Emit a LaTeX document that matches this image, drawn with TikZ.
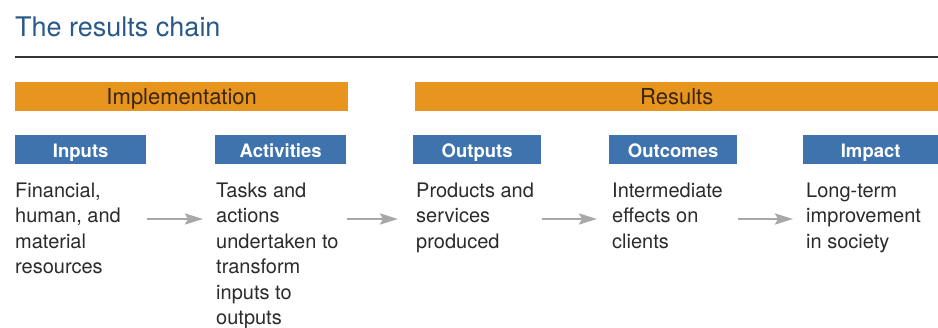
\documentclass[tikz,border=0pt]{standalone}
\usepackage{fontspec}
\setmainfont{TeX Gyre Heros}
\usetikzlibrary{arrows.meta}
\definecolor{barorange}{HTML}{E8951F}
\definecolor{boxblue}{HTML}{3F73AE}
\definecolor{titleblue}{HTML}{28598A}
\definecolor{bartext}{HTML}{3A2510}
\definecolor{bodytext}{HTML}{2B2B2B}
\definecolor{arrowgray}{HTML}{A8A8A8}
\tikzset{
  phasebar/.style={fill=barorange, draw=none, inner sep=0pt, anchor=north west,
    minimum height=29pt, text=bartext, text depth=0pt, text height=15pt,
    font=\fontsize{22}{24}\selectfont},
  stagebox/.style={fill=boxblue, draw=none, inner sep=0pt, anchor=north west,
    minimum width=131pt, minimum height=29pt, text=white, text depth=0pt,
    text height=15pt, font=\fontsize{18.5}{20}\selectfont\bfseries},
  stagetext/.style={anchor=north west, inner sep=0pt, align=left, text=bodytext,
    font=\fontsize{20}{25.5}\selectfont},
  flow/.style={draw=arrowgray, line width=2.6pt, shorten >=12pt, shorten <=1pt,
    -{Stealth[length=18pt,width=11pt,inset=3pt]}}
}
\begin{document}
\begin{tikzpicture}[x=1pt,y=-1pt]
\useasboundingbox[fill=white] (0,0) rectangle (938,327);

% heading and rule
\node[anchor=base west, inner sep=0pt, text=titleblue,
  font=\fontsize{27}{30}\selectfont] (title) at (15,36) {The results chain};
\coordinate (ruleL) at (15,57);
\coordinate (ruleR) at (938,57);
\draw[line width=1.5pt, color=black!80] (ruleL) -- (ruleR);

% phase bars
\node[phasebar, minimum width=333pt] (impl) at (15,82) {Implementation};
\node[phasebar, minimum width=523pt] (res) at (415,82) {Results};

% stage headers
\node[stagebox] (inp)  at (15,135)  {Inputs};
\node[stagebox] (act)  at (215,135) {Activities};
\node[stagebox, minimum width=128pt] (outp) at (413,135) {Outputs};
\node[stagebox, minimum width=128pt] (outc) at (609,135) {Outcomes};
\node[stagebox, minimum width=135pt] (imp)  at (803,135) {Impact};

% stage descriptions
\node[stagetext] (inpT)  at (15,182.5)  {Financial,\\human, and\\material\\resources};
\node[stagetext] (actT)  at (216,182.5) {Tasks and\\actions\\undertaken to\\transform\\inputs to\\outputs};
\node[stagetext] (outpT) at (416,182.5) {Products and\\services\\produced};
\node[stagetext] (outcT) at (612,182.5) {Intermediate\\effects on\\clients};
\node[stagetext] (impT)  at (806,182.5) {Long-term\\improvement\\in society};

% flow arrows
\draw[flow] (inp.east |- 0,219) -- (act.west |- 0,219);
\draw[flow, shorten >=15pt] (act.east |- 0,219) -- (outp.west |- 0,219);
\draw[flow] (outp.east |- 0,219) -- (outc.west |- 0,219);
\draw[flow, shorten >=10pt] (outc.east |- 0,219) -- (imp.west |- 0,219);
\end{tikzpicture}
\end{document}
